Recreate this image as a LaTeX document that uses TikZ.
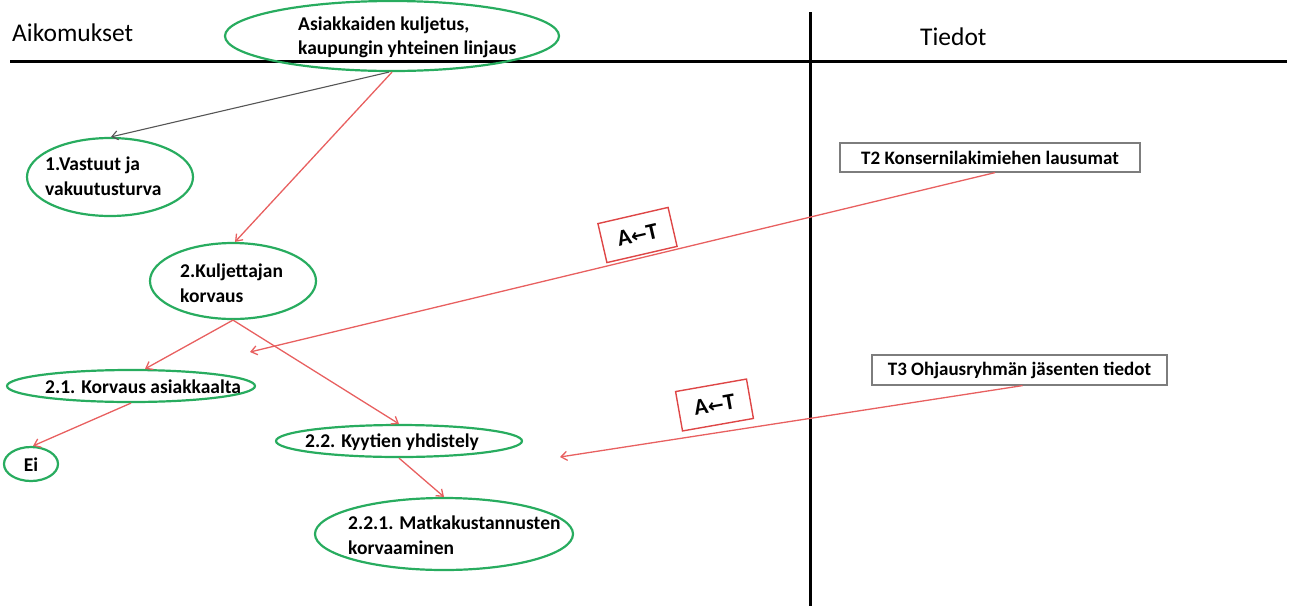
\documentclass[tikz,border=0pt]{standalone}
\usepackage{fontspec}
\setmainfont{Carlito}
\newfontfamily\arrowglyph{DejaVu Sans}
\usetikzlibrary{shapes.geometric,arrows.meta}
\definecolor{ovalgreen}{RGB}{40,172,95}
\definecolor{linkred}{RGB}{232,96,96}
\definecolor{tagred}{RGB}{222,70,70}
\definecolor{linkgray}{RGB}{85,85,85}
\definecolor{framegray}{RGB}{125,125,125}
\newcommand{\atag}{A{\arrowglyph\fontsize{19}{23}\selectfont ←}T}
\begin{document}
\begin{tikzpicture}[x=1pt,y=-1pt,
  oval/.style={draw=ovalgreen, line width=2.2pt, ellipse, inner sep=0pt},
  lbl/.style={font=\fontsize{19.5}{24.5}\selectfont\bfseries, align=left, inner sep=0pt},
  head/.style={font=\fontsize{25.5}{30}\selectfont, inner sep=0pt, anchor=west},
  tbox/.style={draw=framegray, line width=1.2pt, font=\fontsize{19}{23}\selectfont\bfseries, inner sep=0pt},
  tag/.style={draw=tagred, line width=1.4pt, font=\fontsize{23}{27}\selectfont\bfseries, inner sep=0pt, minimum width=72pt, minimum height=40pt},
  arr/.style={-{Straight Barb[length=6pt,width=9pt]}},
  link/.style={arr, draw=linkred, line width=1.3pt},
  greylink/.style={arr, draw=linkgray, line width=1.1pt}
]
\useasboundingbox (0,0) rectangle (1291,606);

% column frame
\draw[line width=3pt] (10,61) -- (1287,61);
\draw[line width=3pt] (810,12) -- (810,606);
\node[head] (hA) at (12,33) {Aikomukset};
\node[head] (hT) at (920,37) {Tiedot};

% intention ovals
\node[oval, minimum width=334pt, minimum height=70pt] (goal) at (392,36) {};
\node[lbl, anchor=west] (goalT) at (298,37.5) {Asiakkaiden kuljetus,\\kaupungin yhteinen linjaus};

\node[oval, minimum width=166pt, minimum height=78pt] (n1) at (110,177) {};
\node[lbl, anchor=west] (n1T) at (45,176) {1.Vastuut ja\\vakuutusturva};

\node[oval, minimum width=166pt, minimum height=76pt] (n2) at (233,281) {};
\node[lbl, anchor=west] (n2T) at (180,283) {2.Kuljettajan\\korvaus};

\node[oval, minimum width=248pt, minimum height=32pt] (n21) at (131,386) {};
\node[lbl, anchor=west] (n21T) at (45,387) {2.1. Korvaus asiakkaalta};

\node[oval, minimum width=54pt, minimum height=34pt] (ei) at (31,464) {};
\node[lbl] (eiT) at (31,465) {Ei};

\node[oval, minimum width=246pt, minimum height=32pt] (n22) at (399,441) {};
\node[lbl, anchor=west] (n22T) at (305,442) {2.2. Kyytien yhdistely};

\node[oval, minimum width=258pt, minimum height=72pt] (n221) at (444,534) {};
\node[lbl, anchor=west] (n221T) at (348,535) {2.2.1. Matkakustannusten\\korvaaminen};

% information boxes
\node[tbox, minimum width=300pt, minimum height=29pt] (t2) at (990,157.5) {T2 Konsernilakimiehen lausumat};
\node[tbox, minimum width=295pt, minimum height=30pt] (t3) at (1019.5,370) {T3 Ohjausryhmän jäsenten tiedot};

% connectors
\draw[greylink] ([xshift=-3pt]goal.south) -- ([xshift=1pt]n1.north);
\draw[link] (goal.south) -- ([xshift=2pt]n2.north);
\draw[link] (n2.south) -- ([xshift=14pt]n21.north);
\draw[link] (n2.south) -- (n22.north);
\draw[link] (n21.south) -- ([xshift=2pt]ei.north);
\draw[link] (n22.south) -- (n221.north);

\coordinate (in2) at (250,352);
\coordinate (in22) at (560,457);
\draw[link] ([xshift=5pt]t2.south) -- (in2);
\draw[link] ([xshift=3pt]t3.south) -- (in22);

% direction tags
\node[tag, rotate=13] (tagA) at (637.5,235) {\atag};
\node[tag, rotate=10] (tagB) at (714.5,405) {\atag};
\end{tikzpicture}
\end{document}
